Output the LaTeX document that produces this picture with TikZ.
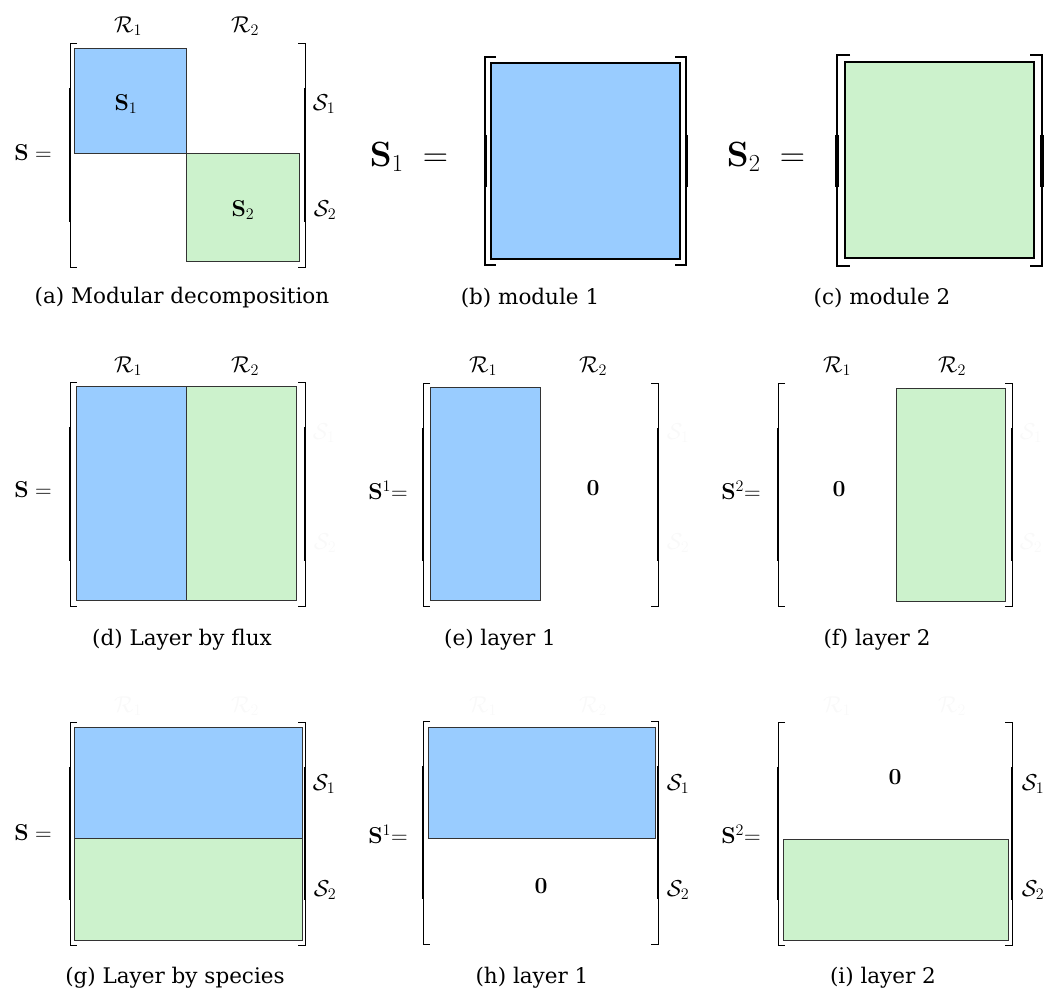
\RequirePackage{fix-cm}
\documentclass[tikz,border=0pt]{standalone}
\usepackage{amsmath}
\usepackage[no-math]{fontspec}
\setmainfont{DejaVu Serif}
\definecolor{modblue}{HTML}{99CCFF}
\definecolor{modgreen}{HTML}{CCF2CC}
\definecolor{ghost}{gray}{0.975}
\tikzset{
  brk/.style={line width=0.9pt, black},
  brkthick/.style={line width=1.7pt, black},
  blk/.style={fill=modblue, draw=black!80, line width=0.6pt},
  grn/.style={fill=modgreen, draw=black!80, line width=0.6pt},
  blkbig/.style={fill=modblue, draw=black, line width=1.4pt},
  grnbig/.style={fill=modgreen, draw=black, line width=1.4pt},
  mlab/.style={inner sep=0pt, font=\fontsize{23}{27}\selectfont},
  biglab/.style={inner sep=0pt, font=\fontsize{35}{40}\selectfont},
  captxt/.style={inner sep=0pt, font=\fontsize{21.5}{25}\selectfont},
  ghostlab/.style={mlab, text=ghost},
}
% left bracket: x, top, bottom, tick length
\newcommand{\mylbrk}[5][0.2]{%
  \draw[brk] ({#2+#5},#3) -- (#2,#3) -- (#2,#4) -- ({#2+#5},#4);
  \draw[brkthick] (#2,{#3+#1*(#4-#3)}) -- (#2,{#3+(1-#1)*(#4-#3)});
}
\newcommand{\myrbrk}[5][0.2]{%
  \draw[brk] ({#2-#5},#3) -- (#2,#3) -- (#2,#4) -- ({#2-#5},#4);
  \draw[brkthick] (#2,{#3+#1*(#4-#3)}) -- (#2,{#3+(1-#1)*(#4-#3)});
}
\begin{document}
\begin{tikzpicture}[x=1pt,y=-1pt]
\useasboundingbox (0,0) rectangle (1047,993);

% ---------------- (a) ----------------
\fill[blk] (74,48) rectangle (186,153);
\fill[grn] (186,153) rectangle (299,261);
\draw[blk,fill=none] (74,48) rectangle (186,153);
\draw[grn,fill=none] (186,153) rectangle (299,261);
\mylbrk{70}{43}{267}{7}
\myrbrk{305}{43}{267}{7}
\node[mlab] (aS) at (33,153) {$\mathbf{S}=$};
\node[mlab] (aS1) at (126,104) {$\mathbf{S}_1$};
\node[mlab] (aS2) at (243,210) {$\mathbf{S}_2$};
\node[mlab] (aR1) at (128,26) {$\mathcal{R}_1$};
\node[mlab] (aR2) at (245,26) {$\mathcal{R}_2$};
\node[mlab] (aC1) at (324,104) {$\mathcal{S}_1$};
\node[mlab] (aC2) at (325,210) {$\mathcal{S}_2$};
\node[captxt] (capa) at (182,298) {(a) Modular decomposition};

% ---------------- (b) ----------------
\fill[blkbig] (491,63) rectangle (680,259);
\draw[line width=1.4pt] (491,63) rectangle (680,259);
\draw[line width=1.6pt] (496,57) -- (485,57) -- (485,265) -- (496,265);
\draw[line width=3pt] (485,135) -- (485,187);
\draw[line width=1.6pt] (675,57) -- (686,57) -- (686,265) -- (675,265);
\draw[line width=3pt] (686,135) -- (686,187);
\node[biglab] (bS) at (409,157) {$\mathbf{S}_1\;=$};
\node[captxt] (capb) at (530,298) {(b) module 1};

% ---------------- (c) ----------------
\fill[grnbig] (845,62) rectangle (1034,258);
\draw[line width=1.4pt] (845,62) rectangle (1034,258);
\draw[line width=2.4pt] (850,55) -- (837,55) -- (837,266) -- (850,266);
\draw[line width=4pt] (837,135) -- (837,187);
\draw[line width=2.4pt] (1030,55) -- (1042,55) -- (1042,266) -- (1030,266);
\draw[line width=4pt] (1042,135) -- (1042,187);
\node[biglab] (cS) at (766,157) {$\mathbf{S}_2\;=$};
\node[captxt] (capc) at (882,298) {(c) module 2};

% ---------------- (d) ----------------
\fill[blk] (76,386) rectangle (186,600);
\fill[grn] (186,386) rectangle (296,600);
\draw[blk,fill=none] (76,386) rectangle (186,600);
\draw[grn,fill=none] (186,386) rectangle (296,600);
\mylbrk{70}{382}{606}{7}
\myrbrk{305}{382}{606}{7}
\node[mlab] (dS) at (33,490) {$\mathbf{S}=$};
\node[mlab] (dR1) at (128,366) {$\mathcal{R}_1$};
\node[mlab] (dR2) at (245,366) {$\mathcal{R}_2$};
\node[ghostlab] (dC1) at (324,433) {$\mathcal{S}_1$};
\node[ghostlab] (dC2) at (325,543) {$\mathcal{S}_2$};
\node[captxt] (capd) at (182,640) {(d) Layer by flux};

% ---------------- (e) ----------------
\fill[blk] (430,387) rectangle (540,600);
\draw[blk,fill=none] (430,387) rectangle (540,600);
\mylbrk{423}{383}{606}{7}
\myrbrk{658}{383}{606}{7}
\node[mlab] (eS) at (388,490) {$\mathbf{S}^1{=}$};
\node[mlab] (eR1) at (483,366) {$\mathcal{R}_1$};
\node[mlab] (eR2) at (593,366) {$\mathcal{R}_2$};
\node[mlab] (e0) at (593,488) {$\mathbf{0}$};
\node[ghostlab] (eC1) at (678,433) {$\mathcal{S}_1$};
\node[ghostlab] (eC2) at (678,543) {$\mathcal{S}_2$};
\node[captxt] (cape) at (500,640) {(e) layer 1};

% ---------------- (f) ----------------
\fill[grn] (896,388) rectangle (1005,601);
\draw[grn,fill=none] (896,388) rectangle (1005,601);
\mylbrk{778}{383}{606}{7}
\myrbrk{1012}{383}{606}{7}
\node[mlab] (fS) at (741,490) {$\mathbf{S}^2{=}$};
\node[mlab] (fR1) at (837,366) {$\mathcal{R}_1$};
\node[mlab] (fR2) at (952,366) {$\mathcal{R}_2$};
\node[mlab] (f0) at (839,489) {$\mathbf{0}$};
\node[ghostlab] (fC1) at (1031,433) {$\mathcal{S}_1$};
\node[ghostlab] (fC2) at (1031,543) {$\mathcal{S}_2$};
\node[captxt] (capf) at (877,640) {(f) layer 2};

% ---------------- (g) ----------------
\fill[blk] (74,727) rectangle (302,838);
\fill[grn] (74,838) rectangle (302,940);
\draw[blk,fill=none] (74,727) rectangle (302,838);
\draw[grn,fill=none] (74,838) rectangle (302,940);
\mylbrk{70}{722}{945}{7}
\myrbrk{305}{722}{945}{7}
\node[mlab] (gS) at (33,833) {$\mathbf{S}=$};
\node[ghostlab] (gR1) at (128,706) {$\mathcal{R}_1$};
\node[ghostlab] (gR2) at (245,706) {$\mathcal{R}_2$};
\node[mlab] (gC1) at (324,784) {$\mathcal{S}_1$};
\node[mlab] (gC2) at (325,890) {$\mathcal{S}_2$};
\node[captxt] (capg) at (175,978) {(g) Layer by species};

% ---------------- (h) ----------------
\fill[blk] (428,727) rectangle (655,838);
\draw[blk,fill=none] (428,727) rectangle (655,838);
\mylbrk{423}{721}{944}{7}
\myrbrk{658}{721}{944}{7}
\node[mlab] (hS) at (388,834) {$\mathbf{S}^1{=}$};
\node[ghostlab] (hR1) at (483,706) {$\mathcal{R}_1$};
\node[ghostlab] (hR2) at (593,706) {$\mathcal{R}_2$};
\node[mlab] (h0) at (541,886) {$\mathbf{0}$};
\node[mlab] (hC1) at (678,784) {$\mathcal{S}_1$};
\node[mlab] (hC2) at (678,890) {$\mathcal{S}_2$};
\node[captxt] (caph) at (532,978) {(h) layer 1};

% ---------------- (i) ----------------
\fill[grn] (783,839) rectangle (1008,940);
\draw[grn,fill=none] (783,839) rectangle (1008,940);
\mylbrk{778}{722}{945}{7}
\myrbrk{1012}{722}{945}{7}
\node[mlab] (iS) at (741,834) {$\mathbf{S}^2{=}$};
\node[ghostlab] (iR1) at (837,706) {$\mathcal{R}_1$};
\node[ghostlab] (iR2) at (952,706) {$\mathcal{R}_2$};
\node[mlab] (i0) at (895,777) {$\mathbf{0}$};
\node[mlab] (iC1) at (1033,784) {$\mathcal{S}_1$};
\node[mlab] (iC2) at (1033,890) {$\mathcal{S}_2$};
\node[captxt] (capi) at (883,978) {(i) layer 2};
\end{tikzpicture}
\end{document}
